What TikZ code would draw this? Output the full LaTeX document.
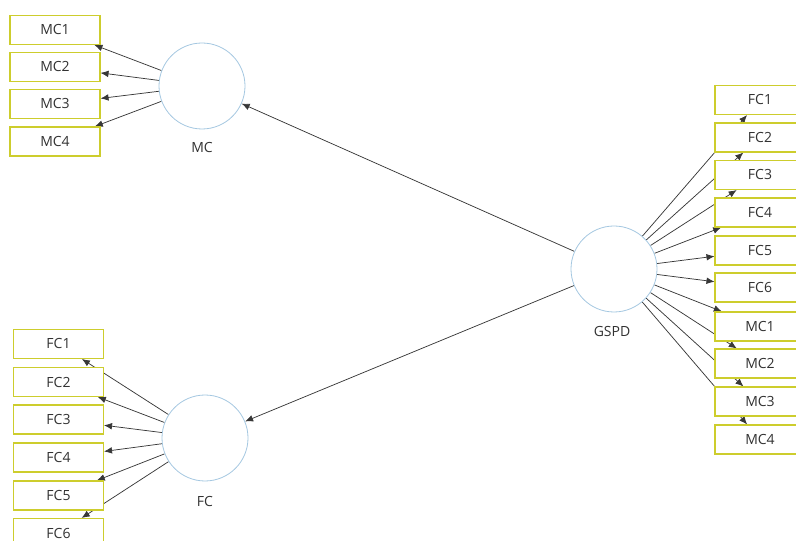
\documentclass[tikz,border=0pt]{standalone}
\usepackage{fontspec}
\setmainfont{Open Sans}
\usetikzlibrary{arrows.meta,backgrounds}

\definecolor{itemborder}{RGB}{205,205,45}
\definecolor{latentborder}{RGB}{165,200,225}
\definecolor{pathline}{RGB}{55,55,55}
\definecolor{labeltext}{RGB}{50,50,50}

\tikzset{
  item/.style={draw=itemborder, line width=0.8pt, fill=white, minimum width=67.5pt,
    minimum height=21.75pt, inner sep=0pt, text=labeltext, font=\fontsize{10.5}{12}\selectfont},
  latent/.style={draw=latentborder, line width=0.6pt, fill=white, circle,
    minimum size=64.5pt, inner sep=0pt},
  lbl/.style={text=labeltext, font=\fontsize{10.5}{12}\selectfont},
  load/.style={draw=pathline, line width=0.55pt, -{Latex[length=6pt,width=5pt]}}
}

\begin{document}
\begin{tikzpicture}[x=0.75pt,y=-0.75pt]
      \useasboundingbox (0,0) rectangle (796,541);
      \clip (0,0) rectangle (796,541);

      % MC block, top left
      \node[latent] (mc) at (202,86) {};
      \node[lbl] at (202,148) {MC};
      \node[item] (mc1) at (55,30) {MC1};
      \node[item] (mc2) at (55,67) {MC2};
      \node[item] (mc3) at (55,104) {MC3};
      \node[item] (mc4) at (55,141.5) {MC4};

      % FC block, bottom left
      \node[latent] (fc) at (205,438) {};
      \node[lbl] at (205,501) {FC};
      \node[item] (fc1) at (58.5,344) {FC1};
      \node[item] (fc2) at (58.5,382) {FC2};
      \node[item] (fc3) at (58.5,419.5) {FC3};
      \node[item] (fc4) at (58.5,457.5) {FC4};
      \node[item] (fc5) at (58.5,495.5) {FC5};
      \node[item] (fc6) at (58.5,533) {FC6};

      % GSPD block, right
      \node[latent] (gspd) at (614,269) {};
      \node[lbl] at (612,332) {GSPD};
      \node[item] (gfc1) at (760,100) {FC1};
      \node[item] (gfc2) at (760,137.5) {FC2};
      \node[item] (gfc3) at (760,175) {FC3};
      \node[item] (gfc4) at (760,212.5) {FC4};
      \node[item] (gfc5) at (760,250.5) {FC5};
      \node[item] (gfc6) at (760,287.5) {FC6};
      \node[item] (gmc1) at (760,326.5) {MC1};
      \node[item] (gmc2) at (760,363.5) {MC2};
      \node[item] (gmc3) at (760,401.5) {MC3};
      \node[item] (gmc4) at (760,439.5) {MC4};

      % loadings go behind the boxes
      \begin{pgfonlayer}{background}
      \draw[load] (mc) -- (mc1);
      \draw[load] (mc) -- (mc2);
      \draw[load] (mc) -- (mc3);
      \draw[load] (mc) -- (mc4);
      \draw[load] (fc) -- (fc1);
      \draw[load] (fc) -- (fc2);
      \draw[load] (fc) -- (fc3);
      \draw[load] (fc) -- (fc4);
      \draw[load] (fc) -- (fc5);
      \draw[load] (fc) -- (fc6);
      \draw[load] (gspd) -- (gfc1);
      \draw[load] (gspd) -- (gfc2);
      \draw[load] (gspd) -- (gfc3);
      \draw[load] (gspd) -- (gfc4);
      \draw[load] (gspd) -- (gfc5);
      \draw[load] (gspd) -- (gfc6);
      \draw[load] (gspd) -- (gmc1);
      \draw[load] (gspd) -- (gmc2);
      \draw[load] (gspd) -- (gmc3);
      \draw[load] (gspd) -- (gmc4);

      % paths from GSPD
      \draw[load] (gspd) -- (mc);
      \draw[load] (gspd) -- (fc);
      \end{pgfonlayer}
    \end{tikzpicture}
\end{document}
